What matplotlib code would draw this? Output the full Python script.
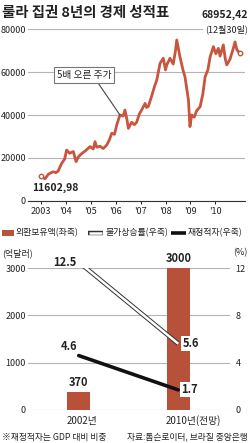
#!/usr/bin/env python3
"""Lula 8 years: Bovespa index and reserves / inflation / fiscal deficit."""

import matplotlib
matplotlib.use("Agg")
import matplotlib.pyplot as plt
from matplotlib.lines import Line2D
from matplotlib.patches import Rectangle

plt.rcParams["font.family"] = ["Noto Sans CJK KR", "DejaVu Sans"]

RED = "#C8553D"
BAR = "#B8513A"
GRID = "#B4B4B4"
TXT = "#222222"

# Bovespa index
stock_years = [2003.0, 2003.16, 2003.3, 2003.49, 2003.6, 2003.69, 2003.83, 2003.95, 2004.03,
               2004.15, 2004.3, 2004.41, 2004.5, 2004.63, 2004.8, 2004.97, 2005.1, 2005.17,
               2005.24, 2005.37, 2005.5, 2005.64, 2005.75, 2005.84, 2005.95, 2006.04, 2006.17,
               2006.3, 2006.37, 2006.45, 2006.51, 2006.64, 2006.75, 2006.84, 2006.95, 2007.04,
               2007.18, 2007.24, 2007.31, 2007.45, 2007.55, 2007.65, 2007.78, 2007.91, 2008.0,
               2008.05, 2008.18, 2008.31, 2008.4, 2008.45, 2008.58, 2008.7, 2008.78, 2008.92,
               2008.95, 2008.98, 2009.05, 2009.15, 2009.25, 2009.39, 2009.5, 2009.59, 2009.7,
               2009.79, 2009.92, 2010.02, 2010.12, 2010.19, 2010.32, 2010.4, 2010.46, 2010.59,
               2010.72, 2010.79, 2010.86, 2010.92, 2010.99]
stock_values = [11603, 10300, 12500, 13600, 13200, 13900, 17500, 19500, 23700,
                22200, 23000, 18300, 20500, 22000, 23500, 25300, 24200, 27600,
                25000, 25500, 24400, 26000, 28500, 31500, 31000, 35300, 40000,
                39500, 42300, 38000, 33800, 36600, 35500, 36600, 40500, 42300,
                45400, 43500, 44000, 49000, 53000, 56300, 64000, 66400, 61000,
                63300, 66400, 63700, 70000, 74900, 67000, 61000, 57800, 47000,
                40800, 34600, 40000, 39000, 42000, 43900, 50000, 57800, 61000,
                67000, 71800, 68500, 71000, 67400, 72600, 66000, 63300, 66000,
                71000, 74000, 70500, 69500, 68952]
stock_ticks = [2003, 2004, 2005, 2006, 2007, 2008, 2009, 2010]
stock_tick_labels = ["2003", "'04", "'05", "'06", "'07", "'08", "'09", "'10"]

# bottom panel
periods = ["2002년", "2010년(전망)"]
reserves = [370, 3000]       # 억달러, left axis
inflation = [12.5, 5.6]      # %, right axis
deficit = [4.6, 1.7]         # % of GDP, right axis

fig = plt.figure(figsize=(2.5, 4.43), dpi=100)

# ---- top: stock index ----
ax = fig.add_axes([0.112, 0.5463, 0.868, 0.3882])
ax.set_xlim(2002.48, 2011.19)
ax.set_ylim(0, 80000)
ax.set_yticks([0, 20000, 40000, 60000, 80000])
ax.grid(axis="y", color=GRID, linewidth=0.8)
ax.set_axisbelow(True)
for side in ("top", "right", "left"):
    ax.spines[side].set_visible(False)
ax.spines["bottom"].set_color("#333333")
ax.spines["bottom"].set_linewidth(0.8)
ax.set_xticks(stock_ticks)
ax.set_xticklabels(stock_tick_labels)
ax.tick_params(axis="x", length=2.5, width=0.7, pad=1.5, labelsize=6.5, colors=TXT)
ax.tick_params(axis="y", length=0, pad=1.5, labelsize=6.5, colors=TXT)

ax.plot(stock_years, stock_values, color=RED, linewidth=2.0, solid_joinstyle="round", zorder=3)
ax.plot([stock_years[0], stock_years[-1]], [stock_values[0], stock_values[-1]], "o",
        ms=3.2, mfc="white", mec=RED, mew=1.0, zorder=4)

ax.text(2002.64, 6000, "11602,98", fontsize=7.5, fontweight="bold", color=TXT,
        ha="left", va="center")
ax.annotate("5배 오른 주가", xy=(2006.17, 40000), xytext=(2004.73, 58600),
            fontsize=7, color=TXT, ha="center", va="center",
            bbox=dict(boxstyle="square,pad=0.3", fc="white", ec="#777777", lw=0.8),
            arrowprops=dict(arrowstyle="-", color="#444444", lw=0.8,
                            relpos=(0.72, 0.0), shrinkA=0, shrinkB=0))

fig.text(0.008, 0.9707, "룰라 집권 8년의 경제 성적표", fontsize=10.4, fontweight="bold",
         color=TXT, ha="left", va="center")
fig.text(0.992, 0.966, "68952,42", fontsize=7.5, fontweight="bold", color=TXT,
         ha="right", va="center")
fig.text(0.992, 0.933, "(12월30일)", fontsize=6.5, color=TXT, ha="right", va="center",
         bbox=dict(boxstyle="square,pad=0.25", fc="white", ec="none"))

# ---- legend row ----
ly = 0.474
fig.add_artist(Rectangle((0.008, ly - 0.007), 0.048, 0.014, transform=fig.transFigure,
                         fc=BAR, ec="none"))
fig.text(0.06, ly, "외환보유액(좌축)", fontsize=6.4, color=TXT, ha="left", va="center")
fig.add_artist(Line2D([0.352, 0.412], [ly, ly], transform=fig.transFigure,
                      color="#333333", lw=3.2, solid_capstyle="butt"))
fig.add_artist(Line2D([0.356, 0.408], [ly, ly], transform=fig.transFigure,
                      color="white", lw=1.8, solid_capstyle="butt"))
fig.text(0.42, ly, "물가상승률(우축)", fontsize=6.4, color=TXT, ha="left", va="center")
fig.add_artist(Line2D([0.684, 0.744], [ly, ly], transform=fig.transFigure,
                      color="#111111", lw=2.6, solid_capstyle="butt"))
fig.text(0.752, ly, "재정적자(우축)", fontsize=6.4, color=TXT, ha="left", va="center")

# ---- bottom: reserves / inflation / deficit ----
bx = fig.add_axes([0.112, 0.0745, 0.808, 0.3205])
xpos = list(range(len(periods)))
bx.set_xlim(-0.51, 1.52)
bx.set_ylim(0, 3000)
bx.set_yticks([0, 1000, 2000, 3000])
bx.grid(axis="y", color=GRID, linewidth=0.8)
bx.set_axisbelow(True)
for side in bx.spines:
    bx.spines[side].set_visible(False)
bx.set_xticks([])
bx.tick_params(axis="y", length=0, pad=1.5, labelsize=6.5, colors=TXT)
bx.bar(xpos, reserves, width=0.235, color=BAR, zorder=2)
for x, v in zip(xpos, reserves):
    bx.annotate(f"{v}", xy=(x, v), xytext=(0, 2.5), textcoords="offset points",
                ha="center", va="bottom", fontsize=8, fontweight="bold", color=TXT,
                annotation_clip=False)

rx = bx.twinx()
rx.set_ylim(0, 12)
rx.set_yticks([0, 4, 8, 12])
for side in rx.spines:
    rx.spines[side].set_visible(False)
rx.tick_params(axis="y", length=0, pad=4, labelsize=6.5, colors=TXT)

rx.plot(xpos, inflation, color="#333333", linewidth=3.2, solid_capstyle="butt", zorder=3)
rx.plot(xpos, inflation, color="white", linewidth=1.8, solid_capstyle="butt", zorder=4)
rx.plot(xpos, deficit, color="#111111", linewidth=2.6, solid_capstyle="round", zorder=3)

lbl = dict(fontsize=8, fontweight="bold", color=TXT, textcoords="offset points",
           annotation_clip=False)
rx.annotate(f"{inflation[0]}", xy=(xpos[0], inflation[0]), xytext=(-2, 0),
            ha="right", va="center", **lbl)
rx.annotate(f"{inflation[1]}", xy=(xpos[1], inflation[1]), xytext=(3, 0),
            ha="left", va="center",
            bbox=dict(boxstyle="square,pad=0.1", fc="white", ec="none"), **lbl)
rx.annotate(f"{deficit[0]}", xy=(xpos[0], deficit[0]), xytext=(-1, 1.5),
            ha="right", va="bottom", **lbl)
rx.annotate(f"{deficit[1]}", xy=(xpos[1], deficit[1]), xytext=(2, 0),
            ha="left", va="center",
            bbox=dict(boxstyle="square,pad=0.1", fc="white", ec="none"), **lbl)

fig.text(0.008, 0.4289, "(억달러)", fontsize=6.5, color=TXT, ha="left", va="center")
fig.text(0.992, 0.4289, "(%)", fontsize=6.5, color=TXT, ha="right", va="center")
fig.text(0.328, 0.0497, periods[0], fontsize=7, color=TXT, ha="center", va="center")
fig.text(0.772, 0.0497, periods[1], fontsize=7, color=TXT, ha="center", va="center")

fig.text(0.008, 0.0135, "※재정적자는 GDP 대비 비중", fontsize=6.3, color=TXT,
         ha="left", va="center")
fig.text(0.992, 0.0135, "자료:톰슨로이터, 브라질 중앙은행", fontsize=6.3, color=TXT,
         ha="right", va="center")

fig.savefig("out.png", dpi=100, facecolor="white")
